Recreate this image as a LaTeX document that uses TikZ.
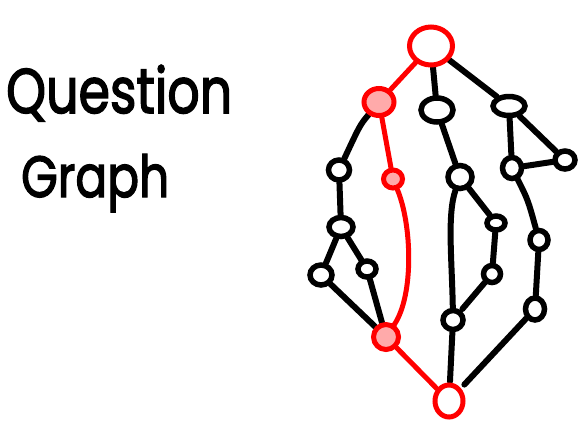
\documentclass[tikz,border=0pt]{standalone}
\usepackage{fontspec}
\usepackage{graphicx}
\setmainfont{Poppins}
\newfontfamily\handfont{Poppins}[FakeBold=2.5]
\usetikzlibrary{shapes.geometric,backgrounds}
\definecolor{hred}{RGB}{255,0,0}
\definecolor{hpink}{RGB}{255,170,170}
\tikzset{
  bn/.style={ellipse, draw=black, fill=white, line width=5.5pt, inner sep=0pt},
  rn/.style={ellipse, draw=hred, fill=white, line width=5pt, inner sep=0pt},
  pn/.style={ellipse, draw=hred, fill=hpink, line width=5pt, inner sep=0pt},
  be/.style={draw=black, line width=6pt, line cap=round},
  re/.style={draw=hred, line width=5pt, line cap=round},
  sz/.style n args={2}{minimum width=#1pt, minimum height=#2pt}
}
\begin{document}
\begin{tikzpicture}[x=1pt,y=-1pt]
\useasboundingbox (0,0) rectangle (585,429);
% text
\node[anchor=base west, inner sep=0pt] (t1) at (6,113) {\resizebox{226pt}{48pt}{\handfont Question}};
\node[anchor=base west, inner sep=0pt] (t2) at (21,197) {\resizebox{148pt}{43pt}{\handfont Graph}};
% nodes
\node[rn, sz={43}{38}] (root) at (431,46) {};
\node[pn, sz={30}{27}] (A) at (379,102) {};
\node[bn, sz={32}{24}] (B) at (437,110) {};
\node[bn, sz={32}{19}] (C) at (509,106) {};
\node[bn, sz={21}{20}] (D) at (339,170) {};
\node[pn, sz={19}{18}] (E) at (393,179) {};
\node[bn, sz={24}{23}] (F) at (460,177) {};
\node[bn, sz={19}{21}] (G) at (512,168) {};
\node[bn, sz={20}{18}] (H) at (565,160) {};
\node[bn, sz={24}{19}] (I) at (341,227) {};
\node[bn, sz={22}{20}] (J) at (321,275) {};
\node[bn, sz={18}{16}] (K) at (367,269) {};
\node[pn, sz={25}{25}] (L) at (386,337) {};
\node[rn, sz={28}{32}] (M) at (449,401) {};
\node[bn, sz={20}{19}] (N) at (453,320) {};
\node[bn, sz={18}{14}] (O) at (496,223) {};
\node[bn, sz={17}{17}] (P) at (492,274) {};
\node[bn, sz={18}{19}] (Q) at (539,240) {};
\node[bn, sz={19}{22}] (R) at (535,309) {};
% edges
\begin{pgfonlayer}{background}
\fill[white] (0,0) rectangle (585,429);
\draw[re] (root) -- (A);
\draw[be] (root) -- (B);
\draw[be] (root) -- (C);
\draw[be] (A) .. controls (360,125) .. (D);
\draw[re] (A) -- (E);
\draw[be] (B) -- (F);
\draw[be] (C) -- (G);
\draw[be] (C) -- (H);
\draw[be] (G) -- (H);
\draw[be] (D) -- (I);
\draw[be] (I) -- (J);
\draw[be] (I) -- (K);
\draw[be] (J) -- (L);
\draw[be] (K) -- (L);
\draw[re] (E) .. controls (412,225) and (414,295) .. (L);
\draw[re] (L) -- (M);
\draw[be] (F) .. controls (447,215) and (452,260) .. (N);
\draw[be, shorten >=1pt] (N) -- (M);
\draw[be] (F) -- (O);
\draw[be] (O) -- (P);
\draw[be, shorten >=2pt] (P) -- (N);
\draw[be] (G) .. controls (528,200) .. (Q);
\draw[be] (Q) -- (R);
\draw[be, shorten >=5pt] (R) -- (M);
\end{pgfonlayer}
\end{tikzpicture}
\end{document}
